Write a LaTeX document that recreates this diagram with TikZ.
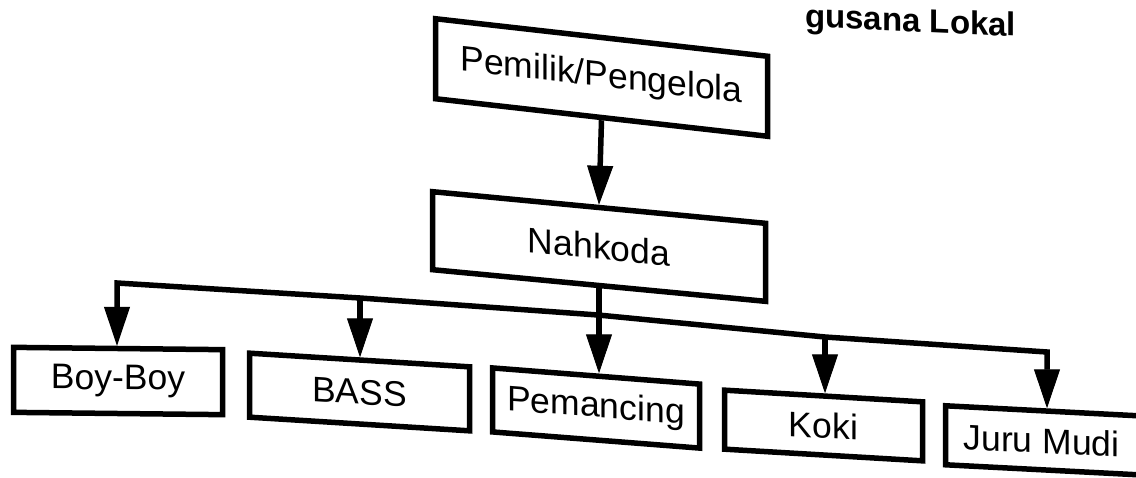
\documentclass[tikz,border=0pt]{standalone}
\usepackage{fontspec}
\setmainfont{Liberation Sans}
\usetikzlibrary{arrows.meta}
\begin{document}
\begin{tikzpicture}[x=1pt,y=-1pt,
  box/.style={draw=black, line width=5.5pt, inner sep=0pt, text=black,
    font=\fontsize{35.5}{40}\selectfont},
  conn/.style={draw=black, line width=5.5pt, line join=miter},
  arr/.style={conn, -{Triangle[length=39pt,width=26pt,line width=1pt]}}
]
\useasboundingbox (0,0) rectangle (1136,477);
\fill[white] (0,0) rectangle (1136,477);
\clip (0,0) rectangle (1136,477);

% partially visible heading
\node[font=\fontsize{33}{38}\selectfont\bfseries, text=black, anchor=base west,
  inner sep=0pt, yslant=-0.044] (title) at (805,27) {gusana Lokal};

% boxes
\node[box, minimum width=332pt, minimum height=80pt, yslant=-0.113] (pem) at (601.5,77.5) {Pemilik/Pengelola};
\node[box, minimum width=333pt, minimum height=78pt, yslant=-0.095] (nah) at (599,246.5) {Nahkoda};
\node[box, minimum width=209pt, minimum height=65pt, yslant=-0.011] (boy) at (118,381) {Boy-Boy};
\node[box, minimum width=220pt, minimum height=64pt, yslant=-0.062] (bass) at (359.5,392) {BASS};
\node[box, minimum width=207pt, minimum height=64pt, yslant=-0.078] (panc) at (596,408) {Pemancing};
\node[box, minimum width=198pt, minimum height=59pt, yslant=-0.059] (koki) at (823.5,425.5) {Koki};
\node[box, minimum width=201pt, minimum height=59pt, yslant=-0.052, text depth=0pt] (jm) at (1046,440.5) {\hspace*{-9pt}Juru Mudi};

% bus junctions
\coordinate (jB) at (117,283);
\coordinate (jS) at (360,298);
\coordinate (jP) at (598,315);
\coordinate (jK) at (825,337);
\coordinate (jJ) at (1047,352);

% connectors
\draw[arr] (pem.south) -- (nah.north);
\draw[arr] (nah.south) -- (nah.south |- panc.north);
\draw[arr] (jS) -- (jB) -- (jB |- boy.north);
\draw[arr] (jS) -- (jP) -- (jK) -- (jJ) -- (jJ |- jm.north);
\draw[arr] (jS) -- (jS |- bass.north);
\draw[arr] (jK) -- (jK |- koki.north);
\end{tikzpicture}
\end{document}
